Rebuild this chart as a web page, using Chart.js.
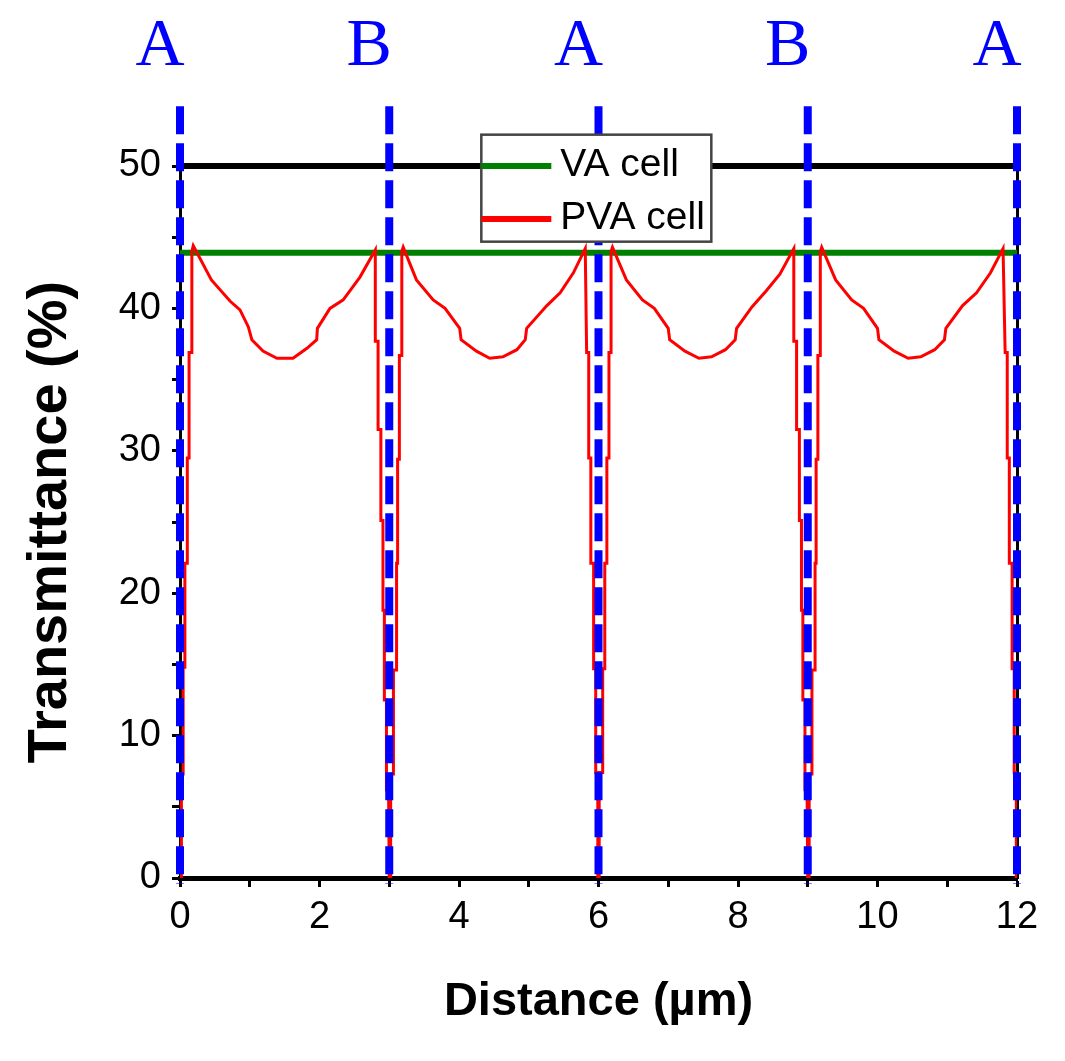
<!DOCTYPE html>
<html>
<head>
<meta charset="utf-8">
<script src="https://cdn.jsdelivr.net/npm/chart.js@4/dist/chart.umd.min.js"></script>
<style>
body { margin: 0; background: #fff; }
#wrap { width: 1065px; height: 1061px; }
</style>
</head>
<body>
<div id="wrap"><canvas id="lineChart" width="1065" height="1061"></canvas></div>
<script>
// region markers along the distance axis
var regions = ["A", "B", "A", "B", "A"];
var regionDistance = [0, 3, 6, 9, 12];

// VA cell: flat transmittance
var vaDistance = [0, 12];
var vaTransmittance = [43.9, 43.9];

// PVA cell
var pvaDistance = [
  0, 0.02, 0.02, 0.045, 0.045, 0.07, 0.07, 0.105, 0.105, 0.13, 0.13, 0.17, 0.17, 0.19,
  0.45, 0.72, 0.86, 0.98, 1.03, 1.19, 1.39, 1.62, 1.82, 1.96, 1.97, 2.15, 2.34, 2.58, 2.80,
  2.80, 2.84, 2.84, 2.88, 2.88, 2.91, 2.91, 2.93, 2.93, 2.96, 2.96, 2.99, 3.0,
  3.02, 3.02, 3.06, 3.06, 3.105, 3.105, 3.12, 3.12, 3.145, 3.145, 3.18, 3.18, 3.20,
  3.39, 3.63, 3.80, 4.01, 4.03, 4.25, 4.44, 4.63, 4.83, 4.95, 4.97, 5.26, 5.45, 5.64, 5.81,
  5.83, 5.86, 5.86, 5.89, 5.89, 5.93, 5.93, 5.96, 5.96, 5.99, 5.99, 6.0,
  6.01, 6.01, 6.06, 6.06, 6.09, 6.09, 6.12, 6.12, 6.15, 6.15, 6.18, 6.18, 6.20,
  6.40, 6.63, 6.80, 7.00, 7.02, 7.24, 7.44, 7.62, 7.82, 7.96, 7.98, 8.20, 8.40, 8.60, 8.80,
  8.80, 8.84, 8.84, 8.88, 8.88, 8.91, 8.91, 8.93, 8.93, 8.96, 8.96, 8.99, 9.0,
  9.02, 9.02, 9.06, 9.06, 9.105, 9.105, 9.12, 9.12, 9.145, 9.145, 9.18, 9.18, 9.20,
  9.40, 9.63, 9.80, 10.00, 10.02, 10.24, 10.44, 10.62, 10.82, 10.96, 10.98, 11.22, 11.42, 11.62, 11.80,
  11.83, 11.86, 11.86, 11.89, 11.89, 11.93, 11.93, 11.96, 11.96, 11.99, 11.99, 12.0
];
var pvaTransmittance = [
  0, 0, 7.3, 7.3, 14.8, 14.8, 22.1, 22.1, 29.5, 29.5, 36.9, 36.9, 44.0, 44.4,
  42.0, 40.5, 39.9, 38.7, 37.8, 37.0, 36.5, 36.5, 37.2, 37.8, 38.6, 40.0, 40.6, 42.2, 44.1,
  37.7, 37.7, 31.5, 31.5, 25.1, 25.1, 18.8, 18.8, 12.5, 12.5, 6.2, 6.2, 0,
  0, 7.3, 7.3, 14.6, 14.6, 22.1, 22.1, 29.4, 29.4, 36.7, 36.7, 44.0, 44.3,
  42.0, 40.6, 40.0, 38.6, 37.8, 37.0, 36.5, 36.6, 37.1, 37.8, 38.6, 40.2, 41.1, 42.5, 44.2,
  36.9, 36.9, 29.5, 29.5, 22.1, 22.1, 14.7, 14.7, 7.4, 7.4, 0, 0,
  0, 7.4, 7.4, 14.7, 14.7, 22.1, 22.1, 29.5, 29.5, 36.9, 36.9, 44.0, 44.3,
  42.0, 40.6, 40.0, 38.6, 37.8, 37.0, 36.5, 36.6, 37.1, 37.8, 38.6, 40.1, 41.2, 42.4, 44.2,
  37.7, 37.7, 31.5, 31.5, 25.1, 25.1, 18.8, 18.8, 12.5, 12.5, 6.2, 6.2, 0,
  0, 7.3, 7.3, 14.6, 14.6, 22.1, 22.1, 29.4, 29.4, 36.7, 36.7, 44.0, 44.3,
  42.0, 40.6, 40.0, 38.6, 37.8, 37.0, 36.5, 36.6, 37.1, 37.8, 38.6, 40.2, 41.1, 42.5, 44.2,
  36.9, 36.9, 29.5, 29.5, 22.1, 22.1, 14.7, 14.7, 7.4, 7.4, 0, 0
];

var xTickLabels = [0, 2, 4, 6, 8, 10, 12];
var yTickLabels = [0, 10, 20, 30, 40, 50];

var guideTop = 54.2, guideBottom = -0.4;
var sans = '"Liberation Sans", Arial, sans-serif';

function pairs(xs, ys) {
  return xs.map(function (x, i) { return { x: x, y: ys[i] }; });
}

var datasets = regionDistance.map(function (d) {
  return {
    label: '',
    data: [{ x: d, y: guideTop }, { x: d, y: guideBottom }],
    borderColor: '#0000ff',
    borderWidth: 8,
    borderDash: [28, 9],
    pointRadius: 0,
    clip: false,
    order: 0
  };
});
datasets.push({
  label: 'PVA cell',
  data: pairs(pvaDistance, pvaTransmittance),
  borderColor: '#ff0000',
  borderWidth: 3,
  pointRadius: 0,
  order: 1
});
datasets.push({
  label: 'VA cell',
  data: pairs(vaDistance, vaTransmittance),
  borderColor: '#008000',
  borderWidth: 6,
  pointRadius: 0,
  order: 2
});

var overlay = {
  id: 'overlay',
  afterDraw: function (chart) {
    var ctx = chart.ctx, xs = chart.scales.x, ys = chart.scales.y;
    ctx.save();
    // A / B labels over the guide lines
    ctx.fillStyle = '#0000ff';
    ctx.font = '68px "Liberation Serif", "Times New Roman", serif';
    ctx.textAlign = 'center';
    ctx.textBaseline = 'alphabetic';
    regions.forEach(function (r, i) {
      ctx.fillText(r, xs.getPixelForValue(regionDistance[i]) - 20, 65);
    });
    // legend box
    var left = xs.getPixelForValue(4.32), top = ys.getPixelForValue(52.2);
    var w = 230, h = 107;
    ctx.fillStyle = '#fff';
    ctx.fillRect(left, top, w, h);
    ctx.strokeStyle = '#444';
    ctx.lineWidth = 2.5;
    ctx.strokeRect(left, top, w, h);
    var keyed = ['VA cell', 'PVA cell'].map(function (lab) {
      return chart.data.datasets.filter(function (d) { return d.label === lab; })[0];
    });
    ctx.font = '39px ' + sans;
    ctx.textAlign = 'left';
    keyed.forEach(function (d, i) {
      var y = ys.getPixelForValue(50) + i * 53;
      ctx.strokeStyle = d.borderColor;
      ctx.lineWidth = 6;
      ctx.beginPath();
      ctx.moveTo(left, y);
      ctx.lineTo(left + 70, y);
      ctx.stroke();
      ctx.fillStyle = '#000';
      ctx.fillText(d.label, left + 79, y + 10);
    });
    ctx.restore();
  }
};

var ctxL = document.getElementById('lineChart').getContext('2d');
var myChart = new Chart(ctxL, {
  type: 'line',
  data: { datasets: datasets },
  options: {
    responsive: false,
    devicePixelRatio: 1,
    animation: false,
    layout: { padding: { top: 166, right: 48, left: 0, bottom: 0 } },
    plugins: { legend: { display: false }, tooltip: { enabled: false } },
    elements: { line: { tension: 0 } },
    scales: {
      x: {
        type: 'linear', position: 'bottom', min: 0, max: 12,
        afterFit: function (s) { s.height = 183; },
        grid: { display: true, drawOnChartArea: false, tickLength: 9, tickWidth: 3, tickColor: '#000' },
        border: { display: true, color: '#000', width: 5 },
        ticks: {
          stepSize: 1, autoSkip: false, maxRotation: 0, padding: 8, color: '#000',
          font: { family: sans, size: 38 },
          callback: function (v) { return xTickLabels.indexOf(v) >= 0 ? String(v) : ''; }
        },
        title: {
          display: true, text: 'Distance (\u00b5m)', color: '#000',
          font: { family: sans, size: 47, weight: 'bold' },
          padding: { top: 0, bottom: 31 }
        }
      },
      y: {
        type: 'linear', position: 'left', min: 0, max: 50,
        afterFit: function (s) { s.width = 180; },
        grid: { display: true, drawOnChartArea: false, tickLength: 8, tickWidth: 3, tickColor: '#000' },
        border: { display: true, color: '#000', width: 3 },
        ticks: {
          stepSize: 5, autoSkip: false, padding: 11, color: '#000',
          font: { family: sans, size: 38 },
          callback: function (v) { return yTickLabels.indexOf(v) >= 0 ? String(v) : ''; }
        },
        title: {
          display: true, text: 'Transmittance (%)', color: '#000',
          font: { family: sans, size: 56, weight: 'bold' },
          padding: { top: 17, bottom: 0 }
        }
      },
      x2: {
        type: 'linear', position: 'top', min: 0, max: 12,
        afterFit: function (s) { s.height = 0; },
        grid: { display: false },
        border: { display: true, color: '#000', width: 6 },
        ticks: { display: false }
      },
      y2: {
        type: 'linear', position: 'right', min: 0, max: 50,
        afterFit: function (s) { s.width = 0; },
        grid: { display: false },
        border: { display: true, color: '#000', width: 3 },
        ticks: { display: false }
      }
    }
  },
  plugins: [overlay]
});
</script>
</body>
</html>
